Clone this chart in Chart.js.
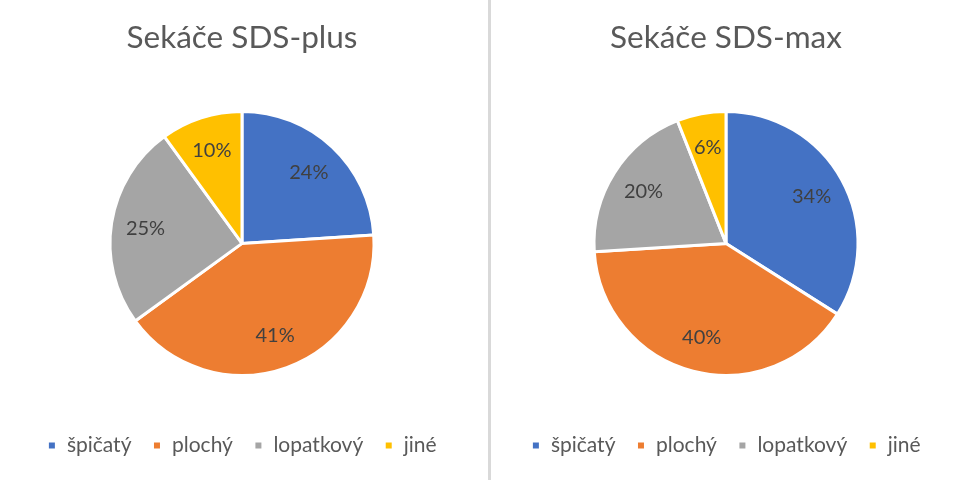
<!DOCTYPE html>
<html>
<head>
<meta charset="utf-8">
<script src="https://cdn.jsdelivr.net/npm/chart.js@4"></script>
<style>
  html, body { margin: 0; padding: 0; background: #fff; overflow: hidden; }
  body { width: 958px; height: 482px; position: relative; }
  .box { position: absolute; top: 0; height: 482px; }
  #left { left: 0; width: 484px; }
  #right { left: 494px; width: 464px; }
  .divider { position: absolute; left: 488px; top: 0; width: 3px; height: 480px; background: #d9d9d9; }
</style>
</head>
<body>
<div class="box" id="left"><canvas id="chartPlus"></canvas></div>
<div class="divider"></div>
<div class="box" id="right"><canvas id="chartMax"></canvas></div>

<script>
// data for both pies
const categories = ['špičatý', 'plochý', 'lopatkový', 'jiné'];
const plusValues = [24, 41, 25, 10];
const maxValues = [34, 40, 20, 6];
const sliceColors = ['#4472C4', '#ED7D31', '#A5A5A5', '#FFC000'];

const FONT = 'Lato, "Open Sans", sans-serif';

// percentage labels drawn inside the slices
const pctLabels = {
  id: 'pctLabels',
  afterDatasetsDraw(chart) {
    const ctx = chart.ctx;
    const data = chart.data.datasets[0].data;
    const total = data.reduce((a, b) => a + b, 0);
    ctx.save();
    ctx.font = '20px ' + FONT;
    ctx.fillStyle = '#404040';
    ctx.textAlign = 'center';
    ctx.textBaseline = 'middle';
    chart.getDatasetMeta(0).data.forEach((arc, i) => {
      const p = arc.getProps(['x', 'y', 'startAngle', 'endAngle', 'outerRadius'], true);
      const mid = (p.startAngle + p.endAngle) / 2;
      const r = p.outerRadius * 0.74;
      const pct = Math.round(data[i] / total * 100) + '%';
      ctx.fillText(pct, p.x + Math.cos(mid) * r, p.y + Math.sin(mid) * r);
    });
    ctx.restore();
  }
};

function makePie(id, title, values) {
  return new Chart(document.getElementById(id), {
    type: 'pie',
    data: {
      labels: categories,
      datasets: [{
        data: values,
        backgroundColor: sliceColors,
        borderColor: '#ffffff',
        borderWidth: 3
      }]
    },
    options: {
      responsive: true,
      maintainAspectRatio: false,
      animation: false,
      radius: 132,
      layout: { padding: { bottom: 16 } },
      plugins: {
        title: {
          display: true,
          text: title,
          color: '#595959',
          font: { family: FONT, size: 31.5, weight: 'normal', lineHeight: 1.2 },
          padding: { top: 19, bottom: 16 }
        },
        legend: {
          position: 'bottom',
          labels: {
            color: '#595959',
            font: { family: FONT, size: 21 },
            boxWidth: 9,
            boxHeight: 9,
            padding: 21
          }
        },
        tooltip: { enabled: false }
      }
    },
    plugins: [pctLabels]
  });
}

makePie('chartPlus', 'Sekáče SDS-plus', plusValues);
makePie('chartMax', 'Sekáče SDS-max', maxValues);
</script>
</body>
</html>
